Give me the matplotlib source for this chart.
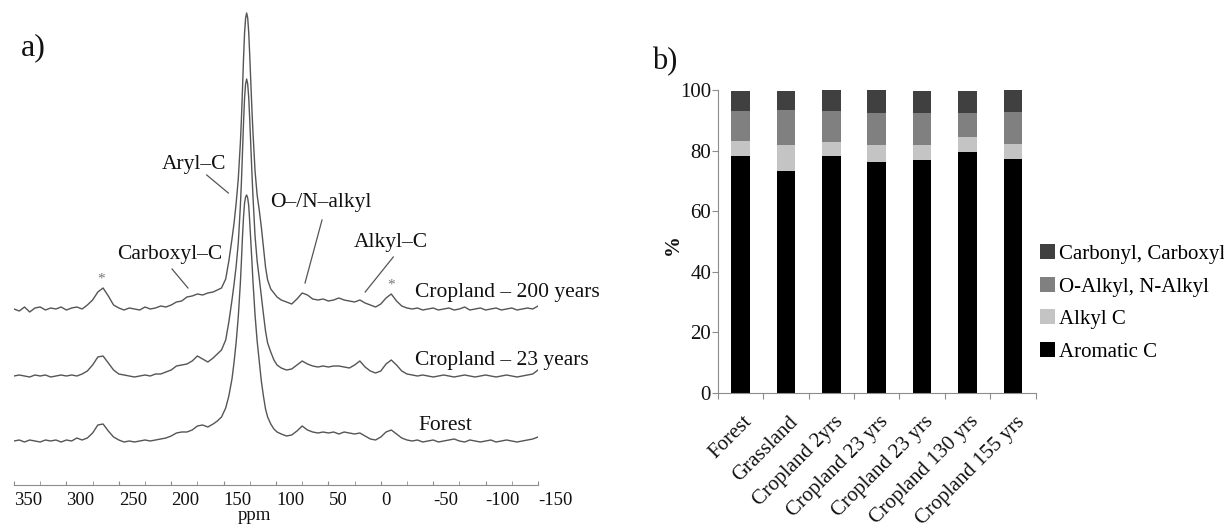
from __future__ import annotations

import matplotlib

matplotlib.use("Agg")
import matplotlib.pyplot as plt
import matplotlib.transforms as mtransforms
import numpy as np

plt.rcParams["font.family"] = ["Liberation Serif", "DejaVu Serif"]
plt.rcParams["axes.unicode_minus"] = False

# ---- panel a: 13C NMR spectra (intensity in arbitrary units above each baseline)
ppm = [
    350, 345, 340, 335, 330, 325, 320, 315, 310, 305, 300, 295, 290, 285, 280, 275, 270, 265, 260, 255,
    250, 245, 240, 235, 230, 225, 220, 215, 210, 205, 200, 195, 190, 185, 180, 175, 170, 165, 160,
    156, 152, 148, 145, 142, 140, 138, 136, 134, 133, 132, 131, 130, 129, 128, 127, 126, 125, 124, 123,
    122, 120, 118, 116, 114, 112, 110, 108, 105, 102, 99,
    95, 90, 85, 80, 75, 70, 65, 60, 55, 50, 45, 40, 35, 30, 25, 20, 15, 10, 5, 0,
    -5, -10, -15, -20, -25, -30, -35, -40, -45, -50, -55, -60, -65, -70, -75, -80, -85, -90, -95, -100,
    -105, -110, -115, -120, -125, -130, -135, -140, -145, -150,
]

crop200 = [
    0, -2, 2, -3, 1, 2, -1, 1, 0, 2, -1, 1, 2, 0, 4, 9, 17, 21, 13, 4,
    1, -1, 1, 0, -1, 2, 0, 1, 3, 2, 4, 7, 8, 12, 13, 15, 14, 16, 17,
    19, 21, 30, 48, 70, 86, 106, 130, 166, 190, 219, 250, 276, 291, 296, 291, 276, 252, 226, 200,
    177, 138, 114, 99, 82, 62, 42, 29, 20, 16, 12,
    9, 7, 5, 10, 16, 14, 10, 9, 10, 8, 9, 11, 9, 8, 7, 9, 6, 4, 2, 5,
    11, 15, 8, 3, 1, 0, 1, -1, 0, 1, -1, 0, 1, -1, 0, 2, -1, 0, 1, -1,
    0, 1, -1, 0, 1, -1, 0, 1, 0, 3,
]

crop23 = [
    0, 1, 0, -1, 1, 0, 1, -1, 0, 1, 0, 1, 0, 2, 5, 11, 19, 20, 13, 6,
    2, 1, 0, -1, 0, 1, 0, 2, 2, 4, 6, 10, 11, 12, 15, 20, 17, 14, 18,
    22, 26, 36, 54, 76, 92, 110, 133, 170, 194, 223, 253, 278, 292, 297, 292, 278, 255, 229, 204,
    180, 140, 115, 98, 80, 62, 45, 33, 24, 16, 11,
    8, 6, 7, 11, 15, 12, 10, 9, 10, 9, 10, 10, 9, 8, 11, 15, 9, 5, 3, 5,
    12, 16, 11, 5, 2, 1, 0, 1, 0, -1, 0, 1, 0, -1, 0, 1, 0, -1, 0, 1,
    0, -1, 0, 1, 0, -1, 0, 1, 2, 6,
]

forest = [
    0, 1, -1, 1, 0, -1, 1, 0, 1, -1, 1, 0, 3, 1, 3, 8, 16, 17, 10, 4,
    1, -1, 0, -1, 0, 1, 0, 1, 2, 3, 5, 8, 9, 9, 11, 15, 16, 14, 17,
    20, 24, 33, 45, 62, 79, 99, 124, 158, 180, 204, 224, 238, 244, 246, 243, 235, 218, 199, 180,
    160, 126, 100, 80, 60, 45, 32, 24, 17, 12, 9,
    7, 5, 6, 10, 15, 11, 9, 8, 9, 8, 9, 7, 9, 8, 7, 8, 5, 2, 1, 4,
    9, 11, 7, 3, 1, 0, 1, -1, 0, 1, -1, 0, 1, 2, 0, -1, 1, 0, -1, 0,
    1, -1, 0, 1, 0, -1, 0, 1, 2, 4,
]

trace_labels = ["Cropland \u2013 200 years", "Cropland \u2013 23 years", "Forest"]
trace_offsets = [176, 109, 44]

# ---- panel b: carbon species distribution (%)
sites = ["Forest", "Grassland", "Cropland 2yrs", "Cropland 23 yrs", "Cropland 23 yrs",
         "Cropland 130 yrs", "Cropland 155 yrs"]
aromatic_c = [78.3, 73.4, 78.3, 76.1, 76.8, 79.4, 77.2]
alkyl_c = [5.0, 8.6, 4.5, 5.9, 5.2, 5.0, 5.1]
o_n_alkyl = [9.9, 11.4, 10.3, 10.4, 10.4, 8.0, 10.5]
carbonyl = [6.6, 6.4, 6.9, 7.6, 7.4, 7.4, 7.2]

TEXT = "#111111"
LINE = "#555555"
AXIS = "#8c8c8c"


def draw_spectra(fig: plt.Figure) -> None:
    ax = fig.add_axes([14 / 1224, 43 / 528, 524 / 1224, 485 / 528])
    x = np.asarray(ppm, dtype=float)
    for values, offset in zip([crop200, crop23, forest], trace_offsets):
        ax.plot(x, np.asarray(values, dtype=float) + offset, color=LINE, linewidth=1.0)

    ax.set_xlim(350, -150)
    ax.set_ylim(0, 485)
    for side in ["left", "right", "top"]:
        ax.spines[side].set_visible(False)
    ax.spines["bottom"].set_color(AXIS)
    ax.set_yticks([])
    ax.set_xticks(np.arange(350, -151, -50))
    ax.set_xticks(np.arange(325, -150, -50), minor=True)
    ax.tick_params(axis="x", which="both", direction="in", length=3, color=AXIS,
                   labelsize=13.5, labelcolor=TEXT, pad=5)
    for label in ax.get_xticklabels():
        label.set_horizontalalignment("left")
    ax.set_xlabel("ppm", fontsize=13.5, color=TEXT, va="top")
    ax.xaxis.set_label_coords(0.458, -0.046)

    for label, (xt, yt) in zip(trace_labels, [(-32.6, 193), (-32.6, 125), (-35.5, 59)]):
        ax.text(xt, yt, label, fontsize=15.5, color=TEXT, ha="left", va="center")

    notes = [
        ("Aryl\u2013C", (178.2, 320), (166.1, 310), (145.5, 292)),
        ("Carboxyl\u2013C", (201.1, 231), (199.2, 216), (184.0, 197)),
        ("O\u2013/N\u2013alkyl", (57.1, 283), (56.1, 265), (72.3, 202)),
        ("Alkyl\u2013C", (-9.7, 243), (-11.9, 228), (14.9, 193)),
    ]
    for text, pos, start, end in notes:
        ax.text(pos[0], pos[1], text, fontsize=15.5, color=TEXT, ha="center", va="center")
        ax.plot([start[0], end[0]], [start[1], end[1]], color=LINE, linewidth=0.9)

    for xs, ys in [(267, 206), (-9.7, 200)]:
        ax.text(xs, ys, "*", fontsize=11, color="#777777", ha="center", va="center")

    fig.text(21 / 1224, 1 - 48 / 528, "a)", fontsize=23, color=TEXT, va="center")


def draw_bars(fig: plt.Figure) -> None:
    ax = fig.add_axes([718 / 1224, 135 / 528, 317.5 / 1224, 303 / 528])
    x = np.arange(len(sites))
    width = 0.41
    layers = [
        (aromatic_c, "#000000", "Aromatic C"),
        (alkyl_c, "#c4c4c4", "Alkyl C"),
        (o_n_alkyl, "#808080", "O-Alkyl, N-Alkyl"),
        (carbonyl, "#404040", "Carbonyl, Carboxyl"),
    ]
    bottom = np.zeros(len(sites))
    handles = []
    for values, color, name in layers:
        bars = ax.bar(x, values, width, bottom=bottom, color=color, label=name)
        handles.append(bars)
        bottom += np.asarray(values)

    ax.set_xlim(-0.5, len(sites) - 0.5)
    ax.set_ylim(0, 100)
    ax.set_yticks(np.arange(0, 101, 20))
    ax.tick_params(axis="y", length=4, color=AXIS, labelsize=15, labelcolor=TEXT, pad=1)
    ax.set_xticks(np.arange(len(sites) + 1) - 0.5)
    ax.set_xticklabels([])
    ax.tick_params(axis="x", which="major", length=4.5, color=AXIS)
    ax.set_xticks(x, minor=True)
    ax.set_xticklabels(sites, minor=True, rotation=45, ha="right", va="top",
                       rotation_mode="anchor", fontsize=15, color=TEXT)
    ax.tick_params(axis="x", which="minor", length=0, pad=14)
    shift = mtransforms.ScaledTranslation(2 / 100, 0, fig.dpi_scale_trans)
    for label in ax.get_xticklabels(minor=True):
        label.set_transform(label.get_transform() + shift)

    for side in ["right", "top"]:
        ax.spines[side].set_visible(False)
    for side in ["left", "bottom"]:
        ax.spines[side].set_color(AXIS)

    ax.set_ylabel("%", fontsize=15, fontweight="bold", color=TEXT)
    ax.yaxis.set_label_coords(-0.11, 0.49)

    fig.legend(handles[::-1], [h.get_label() for h in handles[::-1]],
               loc="center left", bbox_to_anchor=(1040 / 1224, 1 - 303 / 528),
               frameon=False, fontsize=15, handlelength=0.7, handleheight=0.7,
               handletextpad=0.2, labelspacing=0.62, borderpad=0, borderaxespad=0)

    fig.text(652 / 1224, 1 - 62 / 528, "b)", fontsize=22, color=TEXT, va="center")


def main() -> None:
    fig = plt.figure(figsize=(12.24, 5.28), dpi=100)
    draw_spectra(fig)
    draw_bars(fig)
    fig.savefig("out.png", dpi=100)
    plt.close(fig)


if __name__ == "__main__":
    main()
